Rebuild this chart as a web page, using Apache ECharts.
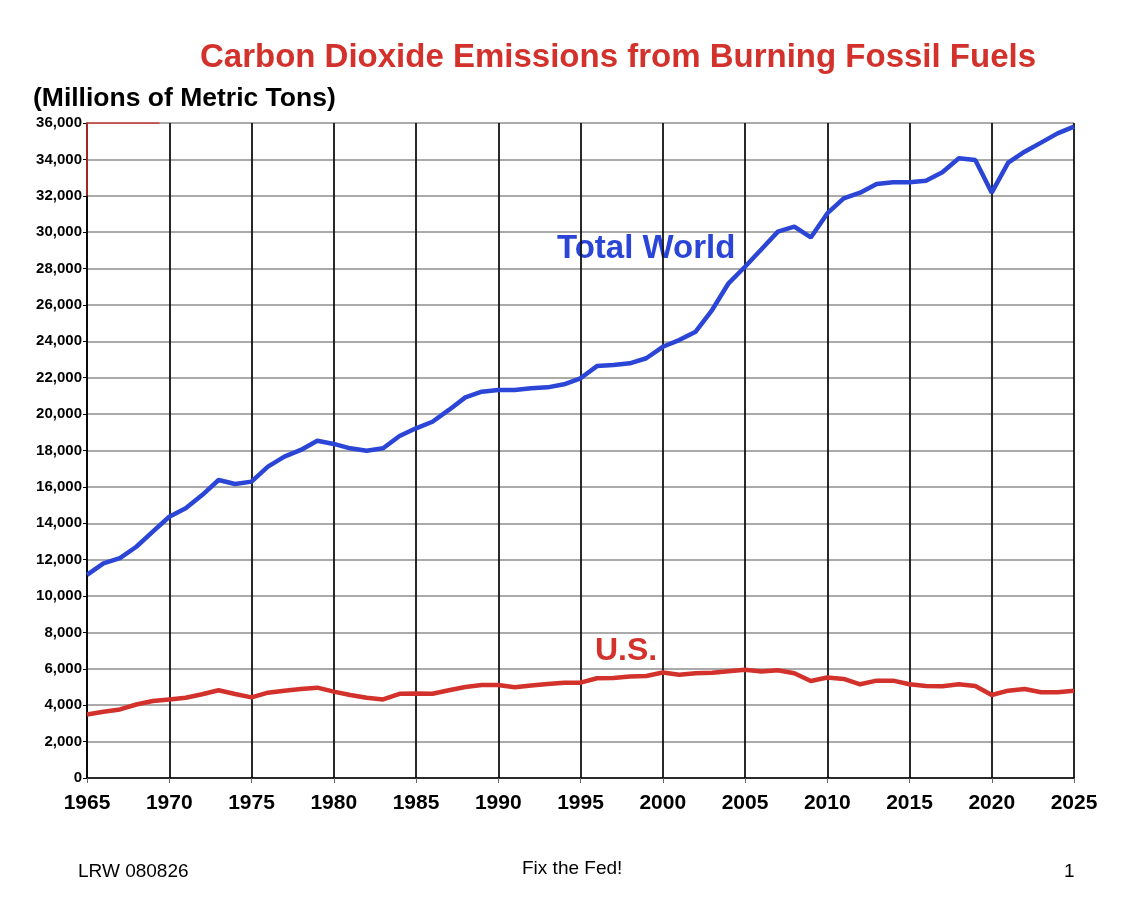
<!DOCTYPE html>
<html>
<head>
<meta charset="utf-8">
<script src="https://cdn.jsdelivr.net/npm/echarts@6/dist/echarts.min.js"></script>
<style>
html,body{margin:0;padding:0;background:#fff;}
#chart{width:1130px;height:910px;}
</style>
</head>
<body>
<div id="chart"></div>
<script>
var years = [];
for (var y = 1965; y <= 2025; y++) years.push(y);

var worldValues = [11160,11800,12080,12710,13540,14360,14820,15550,16380,16160,16290,17110,17660,18030,18540,18360,18120,17990,18120,18800,19220,19580,20230,20920,21230,21320,21320,21420,21470,21640,21970,22640,22700,22790,23070,23700,24070,24530,25720,27190,28100,29060,30030,30300,29710,31030,31860,32170,32650,32740,32740,32830,33290,34060,33970,32170,33820,34420,34920,35430,35800];

var usValues = [3490,3640,3770,4040,4230,4320,4410,4600,4820,4615,4430,4690,4800,4890,4965,4745,4560,4410,4320,4630,4650,4630,4820,5000,5110,5110,4985,5080,5170,5240,5240,5480,5500,5575,5610,5800,5670,5760,5780,5870,5945,5850,5925,5760,5335,5520,5445,5150,5350,5350,5150,5060,5040,5150,5060,4560,4800,4890,4710,4710,4800];

var cornerMarkX = [1969.4, 1965, 1965];
var cornerMarkY = [36000, 36000, 32000];

var xTickLabels = ['1965','1970','1975','1980','1985','1990','1995','2000','2005','2010','2015','2020','2025'];

function pairs(xs, ys){ return xs.map(function(x,i){return [x, ys[i]];}); }

var FONT = '"Liberation Sans", Arial, sans-serif';
var chart = echarts.init(document.getElementById('chart'));
chart.setOption({
  backgroundColor: '#ffffff',
  animation: false,
  title: {
    text: 'Carbon Dioxide Emissions from Burning Fossil Fuels',
    left: 613, top: 36, textAlign: 'center',
    textStyle: {color: '#d2322b', fontFamily: 'Liberation Sans, Arial, sans-serif', fontWeight: 'bold', fontSize: 33}
  },
  grid: {left: 87, right: 56, top: 123, bottom: 132, containLabel: false},
  xAxis: {
    type: 'value', min: 1965, max: 2025, interval: 5,
    axisLine: {show: true, lineStyle: {color: '#000', width: 1.5}},
    axisTick: {show: true, length: 5, lineStyle: {color: '#666'}},
    axisLabel: {
      margin: 15, color: '#000', fontFamily: 'Liberation Sans, Arial, sans-serif', fontWeight: 'bold', fontSize: 21,
      formatter: function(v){ var i = Math.round((v-1965)/5); return xTickLabels[i] || ''; }
    },
    splitLine: {show: true, lineStyle: {color: '#111', width: 1.8}}
  },
  yAxis: {
    type: 'value', min: 0, max: 36000, interval: 2000,
    axisLine: {show: true, lineStyle: {color: '#000', width: 1.5}},
    axisTick: {show: true, length: 4, lineStyle: {color: '#000'}},
    axisLabel: {
      margin: 5, color: '#000', fontFamily: 'Liberation Sans, Arial, sans-serif', fontWeight: 'bold', fontSize: 15,
      formatter: function(v){ return v.toLocaleString('en-US'); }
    },
    splitLine: {show: true, lineStyle: {color: '#aaaaaa', width: 2}}
  },
  series: [
    {
      name: 'Total World', type: 'line', data: pairs(years, worldValues),
      symbol: 'none', lineStyle: {color: '#2b45d6', width: 4.5}, z: 5
    },
    {
      name: 'U.S.', type: 'line', data: pairs(years, usValues),
      symbol: 'none', lineStyle: {color: '#d2322b', width: 4.5}, z: 5
    },
    {
      name: 'corner', type: 'line', data: pairs(cornerMarkX, cornerMarkY),
      symbol: 'none', lineStyle: {color: '#d2322b', width: 1.5}, z: 6, silent: true
    }
  ],
  graphic: [
    {type: 'text', left: 33, top: 85, style: {text: '(Millions of Metric Tons)', fill: '#000', font: 'bold 26.5px ' + FONT}},
    {type: 'text', left: 557, top: 232, style: {text: 'Total World', fill: '#2b45d6', font: 'bold 33px ' + FONT}},
    {type: 'text', left: 595, top: 635, style: {text: 'U.S.', fill: '#d2322b', font: 'bold 32px ' + FONT}},
    {type: 'text', left: 78, top: 862, style: {text: 'LRW 080826', fill: '#000', font: '19px ' + FONT}},
    {type: 'text', left: 522, top: 859, style: {text: 'Fix the Fed!', fill: '#000', font: '19px ' + FONT}},
    {type: 'text', left: 1064, top: 862, style: {text: '1', fill: '#000', font: '19px ' + FONT}}
  ]
});
</script>
</body>
</html>
